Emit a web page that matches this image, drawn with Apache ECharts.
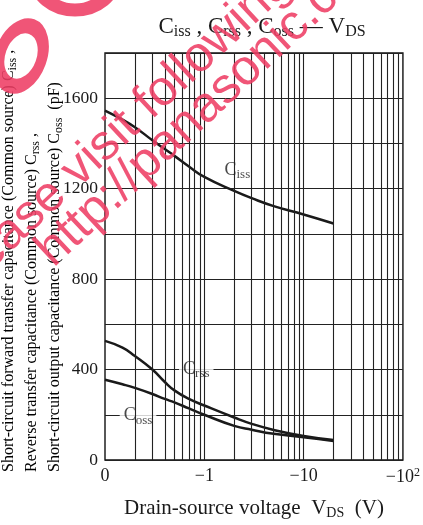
<!DOCTYPE html>
<html>
<head>
<meta charset="utf-8">
<script src="https://cdn.jsdelivr.net/npm/echarts@6/dist/echarts.min.js"></script>
<style>
  html, body { margin: 0; padding: 0; background: #fff; }
  #chart { width: 423px; height: 525px; }
</style>
</head>
<body>
<div id="chart"></div>
<script>
// drain-source voltage |V_DS| (V), log axis
const vds = [0.1, 0.15, 0.2, 0.3, 0.4, 0.5, 0.7, 1, 2, 3, 5, 10, 20];
// capacitances (pF)
const ciss = [1545, 1505, 1472, 1414, 1375, 1345, 1298, 1252, 1190, 1158, 1123, 1086, 1046];
const crss = [527, 497, 460, 400, 345, 308, 270, 241, 188, 160, 133, 106, 88];
const coss = [355, 335, 319, 292, 270, 255, 228, 200, 151, 134, 116, 101, 84];

// vertical grid lines of the log paper
const gridX = [0.2, 0.3, 0.4, 0.5, 0.6, 0.7, 0.8, 0.9, 1,
  2, 3, 4, 5, 6, 7, 8, 9, 10,
  20, 30, 40, 50, 60, 70, 80, 90];

// curve names written on the plot
const labelNames = ['iss', 'rss', 'oss'];
const labelX = [2.15, 0.83, 0.215];
const labelY = [1283, 400, 196];

const ink = '#1a1a1a';
const serif = 'Liberation Serif';
const pink = 'rgba(238,62,100,0.88)';
const stampAngle = 0.75;

function pairs(xs, ys) {
  return xs.map((x, i) => [x, ys[i]]);
}

const subRich = {
  n: { fontFamily: serif, fontSize: 16, color: ink },
  s: { fontFamily: serif, fontSize: 12, color: ink, padding: [8, 0, 0, 0] }
};

let chart = echarts.init(document.getElementById('chart'));

let option = {
  animation: false,
  title: {
    text: '{c|C}{s|iss}{c| , C}{s|rss}{c| , C}{s|oss}{c| — V}{s|DS}',
    left: 257,
    top: 8,
    textAlign: 'center',
    textStyle: {
      fontWeight: 'normal',
      rich: {
        c: { fontFamily: serif, fontSize: 23, fontWeight: 'normal', color: ink },
        s: { fontFamily: serif, fontSize: 16, fontWeight: 'normal', color: ink, padding: [11, 0, 0, 0] }
      }
    }
  },
  grid: {
    left: 105, right: 16, top: 53, bottom: 63,
    show: true, borderColor: '#111', borderWidth: 1.4
  },
  xAxis: {
    type: 'log',
    logBase: 10,
    min: 0.1,
    max: 100,
    axisLine: { show: false },
    axisTick: { show: false },
    splitLine: { show: false },
    axisLabel: {
      margin: 7,
      showMinLabel: true,
      showMaxLabel: true,
      formatter: function (v) {
        let p = Math.round(Math.log10(v));
        if (p === -1) return '{a|0}';
        if (p === 0) return '{a|−1}';
        if (p === 1) return '{a|−10}';
        return '{a|−10}{b|2}';
      },
      rich: {
        a: { fontFamily: serif, fontSize: 18, color: ink },
        b: { fontFamily: serif, fontSize: 12, color: ink, padding: [0, 0, 8, 0] }
      }
    },
    name: '{n|Drain-source voltage  V}{s|DS}{n|  (V)}',
    nameLocation: 'middle',
    nameGap: 36,
    nameTextStyle: {
      rich: {
        n: { fontFamily: serif, fontSize: 21, color: ink },
        s: { fontFamily: serif, fontSize: 14, color: ink, padding: [10, 0, 0, 0] }
      }
    }
  },
  yAxis: {
    type: 'value',
    min: 0,
    max: 1800,
    interval: 200,
    axisLine: { show: false },
    axisTick: { show: false },
    splitLine: { show: true, lineStyle: { color: '#222', width: 1.1 } },
    axisLabel: {
      margin: 7,
      fontFamily: serif,
      fontSize: 17.5,
      color: ink,
      formatter: function (v) {
        return (v % 400 === 0 && v < 1800) ? String(v) : '';
      }
    }
  },
  series: [
    {
      type: 'line',
      data: [],
      silent: true,
      z: 1,
      markLine: {
        silent: true,
        symbol: ['none', 'none'],
        label: { show: false },
        lineStyle: { type: 'solid', color: '#222', width: 1.1 },
        data: gridX.map(x => ({ xAxis: x }))
      }
    },
    {
      name: 'Ciss', type: 'line', smooth: 0.5, showSymbol: false, z: 3,
      lineStyle: { color: ink, width: 2.5 },
      data: pairs(vds, ciss)
    },
    {
      name: 'Crss', type: 'line', smooth: 0.5, showSymbol: false, z: 3,
      lineStyle: { color: ink, width: 2.5 },
      data: pairs(vds, crss)
    },
    {
      name: 'Coss', type: 'line', smooth: 0.5, showSymbol: false, z: 3,
      lineStyle: { color: ink, width: 2.5 },
      data: pairs(vds, coss)
    },
    {
      type: 'scatter',
      symbolSize: 0,
      z: 4,
      data: pairs(labelX, labelY),
      label: {
        show: true,
        position: 'inside',
        backgroundColor: '#fff',
        padding: [1, 4, 1, 4],
        formatter: p => '{c|C}{s|' + labelNames[p.dataIndex] + '}',
        rich: {
          c: { fontFamily: serif, fontSize: 18, color: ink },
          s: { fontFamily: serif, fontSize: 13, color: ink, padding: [9, 0, 0, 0] }
        }
      }
    }
  ],
  graphic: [
    // axis title, three rotated lines
    {
      type: 'text', x: 9, y: 472, rotation: Math.PI / 2,
      style: {
        text: '{n|Short-circuit forward transfer capacitance (Common source) C}{s|iss}{n| ,}',
        rich: subRich, textAlign: 'left', textVerticalAlign: 'middle'
      }
    },
    {
      type: 'text', x: 32, y: 472, rotation: Math.PI / 2,
      style: {
        text: '{n|Reverse transfer capacitance (Common source) C}{s|rss}{n| ,}',
        rich: subRich, textAlign: 'left', textVerticalAlign: 'middle'
      }
    },
    {
      type: 'text', x: 55, y: 472, rotation: Math.PI / 2,
      style: {
        text: '{n|Short-circuit output capacitance (Common source) C}{s|oss}{n|  (pF)}',
        rich: subRich, textAlign: 'left', textVerticalAlign: 'middle'
      }
    },
    // red stamp over the page
    {
      type: 'text', x: -53, y: 292, rotation: stampAngle, z: 100,
      style: {
        text: 'Please visit following URL about latest information.',
        font: '50px "Liberation Sans"', fill: pink,
        textAlign: 'left', textVerticalAlign: 'middle'
      }
    },
    {
      type: 'text', x: 44, y: 258, rotation: stampAngle, z: 100,
      style: {
        text: 'http://panasonic.co.jp/semicon/e-index.html',
        font: '50px "Liberation Sans"', fill: pink,
        textAlign: 'left', textVerticalAlign: 'middle'
      }
    },
    {
      type: 'circle', x: 21, y: 56, rotation: -0.35, scaleX: 0.8, scaleY: 1.2, z: 100,
      shape: { cx: 0, cy: 0, r: 26 },
      style: { fill: 'none', stroke: pink, lineWidth: 13 }
    },
    {
      type: 'circle', x: 75, y: -22, scaleX: 1.2, z: 100,
      shape: { cx: 0, cy: 0, r: 32 },
      style: { fill: 'none', stroke: pink, lineWidth: 13 }
    }
  ]
};

chart.setOption(option);
</script>
</body>
</html>
